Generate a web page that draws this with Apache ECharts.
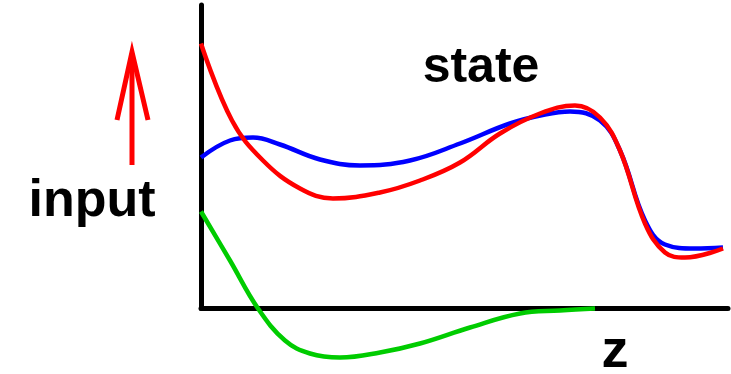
<!DOCTYPE html>
<html>
<head>
<meta charset="utf-8">
<script src="https://cdn.jsdelivr.net/npm/echarts@6/dist/echarts.min.js"></script>
<style>
  html, body { margin: 0; padding: 0; background: #fff; }
  #chart { width: 731px; height: 374px; }
</style>
</head>
<body>
<div id="chart"></div>
<script>
// positions along z, and curve heights above the axis
var zRed = [0, 31, 62, 99, 132, 179, 219, 259, 299, 339, 374, 399, 419, 444, 464, 484, 522]
var redVals = [265, 188, 148, 120, 110, 116, 128, 146, 175, 195, 203, 191, 158, 85, 56, 51, 60]

var zBlue = [0, 29, 52, 79, 119, 159, 209, 259, 309, 344, 369, 399, 419, 444, 464, 494, 522]
var blueVals = [151, 168, 171, 164, 149, 143, 148, 165, 185, 194, 197, 188, 158, 88, 64, 60, 61]

var zGreen = [0, 29, 57, 84, 109, 139, 179, 219, 269, 319, 359, 394]
var greenVals = [97, 48, 0, -32, -45, -49, -44, -35, -19, -5, -2, 0]

function pairs(xs, ys) {
  return xs.map(function (x, i) { return [x, ys[i]] })
}

var chart = echarts.init(document.getElementById('chart'))

var lineSeries = function (name, color, data) {
  return {
    name: name,
    type: 'line',
    data: data,
    smooth: 0.4,
    symbol: 'none',
    clip: false,
    lineStyle: { color: color, width: 4.5 }
  }
}

var font = '"Liberation Sans", Arial, sans-serif'

chart.setOption({
  animation: false,
  grid: { left: 201, right: 3, top: 5, bottom: 65.5 },
  xAxis: {
    type: 'value',
    min: 0,
    max: 527,
    axisLine: { show: true, onZero: false, lineStyle: { color: '#000', width: 5 } },
    axisTick: { show: false },
    axisLabel: { show: false },
    splitLine: { show: false }
  },
  yAxis: {
    type: 'value',
    min: 0,
    max: 303.5,
    axisLine: { show: true, lineStyle: { color: '#000', width: 5 } },
    axisTick: { show: false },
    axisLabel: { show: false },
    splitLine: { show: false }
  },
  series: [
    lineSeries('green', '#00cc00', pairs(zGreen, greenVals)),
    lineSeries('blue', '#0000ff', pairs(zBlue, blueVals)),
    lineSeries('red', '#ff0000', pairs(zRed, redVals))
  ],
  graphic: [
    {
      type: 'text', x: 481, y: 68,
      style: { text: 'state', font: 'bold 50px ' + font, fill: '#000', align: 'center', verticalAlign: 'middle' }
    },
    {
      type: 'text', x: 92, y: 202,
      style: { text: 'input', font: 'bold 52px ' + font, fill: '#000', align: 'center', verticalAlign: 'middle' }
    },
    {
      type: 'text', x: 615, y: 352,
      style: { text: 'z', font: 'bold 54px ' + font, fill: '#000', align: 'center', verticalAlign: 'middle' }
    },
    {
      type: 'line',
      shape: { x1: 132, y1: 165, x2: 132, y2: 56 },
      style: { stroke: '#ff0000', lineWidth: 5 }
    },
    {
      type: 'polyline',
      shape: { points: [[117, 120], [132, 52], [148, 120]] },
      style: { stroke: '#ff0000', lineWidth: 5, fill: null, lineJoin: 'miter' }
    }
  ]
})
</script>
</body>
</html>
